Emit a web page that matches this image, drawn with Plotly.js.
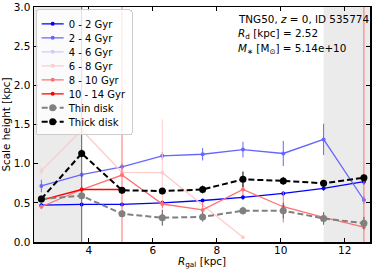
<!DOCTYPE html>
<html>
<head>
<meta charset="utf-8">
<script src="https://cdn.plot.ly/plotly-3.0.1.min.js"></script>
<style>html,body{margin:0;padding:0;background:#fff;}#chart{width:374px;height:270px;}</style>
</head>
<body>
<div id="chart"></div>
<script>
// Radial bins (kpc)
const R = [2.52, 3.78, 5.04, 6.30, 7.56, 8.82, 10.08, 11.34, 12.60];

// Age bins
const age0_2   = [0.47, 0.48, 0.48, 0.50, 0.53, 0.57, 0.62, 0.685, 0.77];
const age0_2e  = [0.02, 0.02, 0.02, 0.02, 0.02, 0.03, 0.03, 0.03, 0.04];
const age2_4   = [0.715, 0.86, 0.96, 1.10, 1.12, 1.18, 1.13, 1.31, 0.536];
const age2_4e  = [0.08, 0.04, 0.04, 0.05, 0.08, 0.10, 0.16, 0.20, 0.05];
const age4_6   = [null, null, null, null, null, null, null, null, null];
const R6_8     = [2.52, 3.78, 5.04, 6.30, 8.82];
const age6_8   = [0.91, 1.43, 0.89, 0.885, 0.06];
const age6_8e  = [0.05, 0.05, 0.05, 0.68, 0.02];
const age8_10  = [0.45, 0.67, 0.855, 0.485, 0.41, 0.67, 0.45, 0.315, 0.19];
const age8_10e = [0.03, 0.04, 3.0, 0.05, 0.10, 0.08, 0.20, 0.05, 3.0];
const R10_14   = [2.52, 3.78, 5.04];
const age10_14 = [0.536, 0.67, 0.67];
const age10_14e= [0.03, 0.03, 0.03];

// Disk components
const thin   = [0.55, 0.59, 0.36, 0.31, 0.32, 0.40, 0.40, 0.30, 0.24];
const thinE  = [0.03, 3.0, 0.04, 0.10, 0.06, 0.05, 0.10, 0.08, 0.08];
const thick  = [0.55, 1.13, 0.66, 0.65, 0.67, 0.80, 0.78, 0.75, 0.82];
const thickE = [0.03, 0.05, 0.04, 0.04, 0.05, 0.10, 0.05, 0.04, 0.04];

const labels = ['0 - 2 Gyr','2 - 4 Gyr','4 - 6 Gyr','6 - 8 Gyr','8 - 10 Gyr','10 - 14 Gyr','Thin disk','Thick disk'];
const colors = ['#0000ff','#6666ff','#ccccff','#ffcccc','#ff7070','#ff0000','#808080','#000000'];

function ageTrace(x, y, e, i) {
  return {
    x: x, y: y, name: labels[i], type: 'scatter', mode: 'lines+markers',
    line: {color: colors[i], width: 1.3},
    marker: {color: colors[i], size: 4, symbol: 'circle'},
    error_y: {type: 'data', array: e, visible: true, color: colors[i], thickness: 1, width: 0}
  };
}

const traces = [
  ageTrace(R, age0_2, age0_2e, 0),
  ageTrace(R, age2_4, age2_4e, 1),
  ageTrace(R, age4_6, age0_2e, 2),
  ageTrace(R6_8, age6_8, age6_8e, 3),
  ageTrace(R, age8_10, age8_10e, 4),
  ageTrace(R10_14, age10_14, age10_14e, 5),
  {x: R, y: thin, name: labels[6], type: 'scatter', mode: 'lines+markers',
   line: {color: colors[6], width: 2, dash: '6px,3px'},
   marker: {color: colors[6], size: 7},
   error_y: {type: 'data', array: thinE, visible: true, color: '#606060', thickness: 1, width: 0}},
  {x: R, y: thick, name: labels[7], type: 'scatter', mode: 'lines+markers',
   line: {color: colors[7], width: 2, dash: '6px,3px'},
   marker: {color: colors[7], size: 7},
   error_y: {type: 'data', array: thickE, visible: true, color: '#000000', thickness: 1, width: 0}}
];

const annFont = {size: 10.4, family: 'DejaVu Sans', color: '#000'};
const layout = {
  width: 374, height: 270,
  margin: {l: 34, r: 4, t: 7, b: 28},
  paper_bgcolor: '#ffffff', plot_bgcolor: '#ffffff',
  font: {family: 'DejaVu Sans', size: 10, color: '#000'},
  showlegend: true,
  legend: {x: 0.005, y: 0.99, xanchor: 'left', yanchor: 'top',
           bgcolor: 'rgba(255,255,255,0.8)', bordercolor: '#cccccc', borderwidth: 1,
           font: {size: 10, family: 'DejaVu Sans'}, tracegroupgap: 0, itemwidth: 30},
  xaxis: {range: [2.29, 12.79], tickvals: [4, 6, 8, 10, 12], ticks: 'inside', ticklen: 4,
          tickcolor: '#000', mirror: 'ticks', showline: true, linecolor: '#000', linewidth: 1.5,
          showgrid: false, zeroline: false, tickfont: {size: 10.5}, ticklabelstandoff: -2},
  yaxis: {range: [0, 3], tickvals: [0, 0.5, 1, 1.5, 2, 2.5, 3], tickformat: '.1f',
          ticks: 'inside', ticklen: 4, tickcolor: '#000', mirror: 'ticks', showline: true,
          linecolor: '#000', linewidth: 1.5, showgrid: false, zeroline: false, tickfont: {size: 10.5},
          title: {text: 'Scale height [kpc]', font: {size: 10.4}, standoff: 4}},
  shapes: [
    {type: 'rect', xref: 'x', yref: 'paper', x0: 2.29, x1: R[1], y0: 0, y1: 1,
     fillcolor: '#ebebeb', line: {width: 0}, layer: 'below'},
    {type: 'rect', xref: 'x', yref: 'paper', x0: R[7], x1: 12.79, y0: 0, y1: 1,
     fillcolor: '#ebebeb', line: {width: 0}, layer: 'below'}
  ],
  annotations: [
    {xref: 'paper', yref: 'paper', x: 0.5, y: -0.119, xanchor: 'center', yanchor: 'bottom', showarrow: false,
     font: annFont, text: '<i>R</i><sub>gal</sub> [kpc]', borderpad: 0, yshift: 0},
    {xref: 'paper', yref: 'paper', x: 0.6, y: 0.949, xanchor: 'left', yanchor: 'middle', showarrow: false,
     font: annFont, text: 'TNG50, <i>z</i> = 0, ID 535774'},
    {xref: 'paper', yref: 'paper', x: 0.6, y: 0.885, xanchor: 'left', yanchor: 'middle', showarrow: false,
     font: annFont, text: '<i>R</i><sub>d</sub> [kpc] = 2.52'},
    {xref: 'paper', yref: 'paper', x: 0.6, y: 0.821, xanchor: 'left', yanchor: 'middle', showarrow: false,
     font: annFont, text: '<i>M</i><sub>∗</sub> [M<sub>⊙</sub>] = 5.14e+10'}
  ]
};

Plotly.newPlot('chart', traces, layout, {displayModeBar: false, staticPlot: true}).then(function () {
  try {
    const items = document.querySelectorAll('#chart .legend .traces');
    if (items.length < 2) return;
    const parse = function (el) {
      const m = /translate\(\s*([-\d.]+)[ ,]+([-\d.]+)\s*\)/.exec(el.getAttribute('transform') || '');
      return m ? [parseFloat(m[1]), parseFloat(m[2])] : null;
    };
    const p0 = parse(items[0]), p1 = parse(items[1]);
    if (!p0 || !p1) return;
    const oldStep = p1[1] - p0[1];
    const step = 14;
    const shrinkX = 8;
    items.forEach(function (el, i) {
      el.setAttribute('transform', 'translate(' + p0[0] + ',' + (p0[1] - 1 + step * i) + ')');
      el.querySelectorAll('.legendlines path').forEach(function (p) { p.setAttribute('d', 'M5,0h22'); });
      el.querySelectorAll('.legendpoints path').forEach(function (p) { p.setAttribute('transform', 'translate(16,0)'); });
      el.querySelectorAll('text.legendtext').forEach(function (t) { t.setAttribute('x', 32); });
    });
    const bg = document.querySelector('#chart .legend rect.bg');
    if (bg) {
      const h = parseFloat(bg.getAttribute('height'));
      const w = parseFloat(bg.getAttribute('width'));
      bg.setAttribute('height', h - (oldStep - step) * (items.length - 1) - 3);
      bg.setAttribute('width', w - shrinkX);
      bg.setAttribute('rx', 3); bg.setAttribute('ry', 3);
    }
  } catch (e) {}
});
</script>
</body>
</html>
